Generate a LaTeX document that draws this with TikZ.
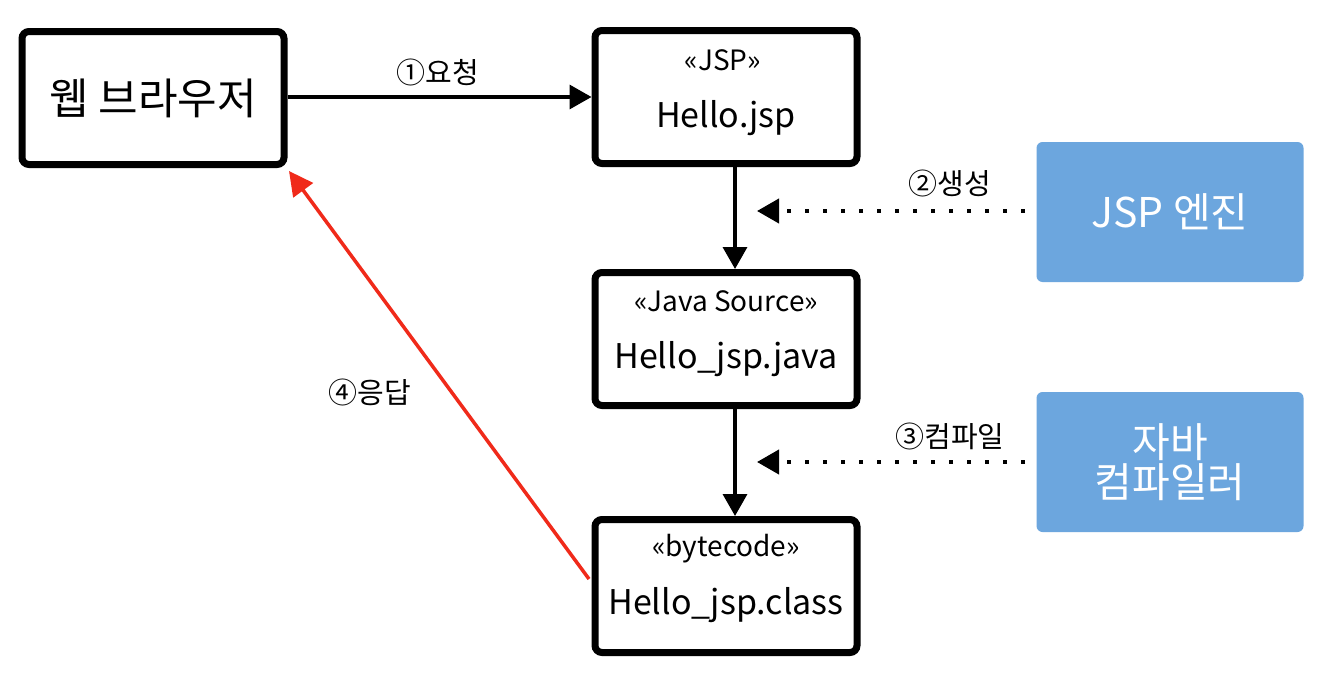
\documentclass[tikz,border=0pt]{standalone}
\usepackage{fontspec}
\setmainfont{Noto Sans CJK KR}
\usetikzlibrary{arrows.meta}
\definecolor{boxblue}{HTML}{6CA6DE}
\definecolor{respred}{HTML}{F02A1A}
\begin{document}
\begin{tikzpicture}[x=1pt,y=-1pt,
  blackbox/.style={draw=black,line width=7pt,rounded corners=7pt,fill=white,minimum width=262pt,minimum height=133pt,align=center,inner sep=0pt},
  bluebox/.style={fill=boxblue,rounded corners=6pt,minimum width=267pt,minimum height=140pt,align=center,text=white,inner sep=0pt,font=\fontsize{41}{46}\selectfont},
  flow/.style={line width=3.5pt,-{Triangle[length=22pt,width=24pt]}},
  dotarrow/.style={line width=4pt,dash pattern=on 4pt off 14pt,-{Triangle[length=22pt,width=24pt]}},
  lbl/.style={font=\fontsize{29}{32}\selectfont,inner sep=0pt},
  small/.style={font=\fontsize{28}{32}\selectfont},
  big/.style={font=\fontsize{34}{40}\selectfont}]
\useasboundingbox (0,0) rectangle (1340,696);
\fill[white] (0,0) rectangle (1340,696);
\node[blackbox,font=\fontsize{43}{48}\selectfont] (browser) at (153,98) {웹 브라우저};
\node[blackbox] (jsp) at (726,97) {};
\node[small] at (723,60) {«JSP»};
\node[big] at (726,118) {Hello.jsp};
\node[blackbox] (java) at (726,339) {};
\node[small] at (726,301) {«Java Source»};
\node[big] at (726,359) {Hello\_jsp.java};
\node[blackbox] (cls) at (726,586) {};
\node[small] at (726,549) {«bytecode»};
\node[big] at (726,605) {Hello\_jsp.class};
\node[bluebox] (engine) at (1170,212) {JSP 엔진};
\node[bluebox] (compiler) at (1170,462) {자바\\[-6pt]컴파일러};
\coordinate (g1) at (757,211);
\coordinate (g2) at (757,462);
\coordinate (e1) at (1025,211);
\coordinate (e2) at (1025,462);
\draw[flow] (browser.east |- 0,97) -- (jsp.west |- 0,97);
\node[lbl] at (438,72) {①요청};
\draw[flow] (jsp.south -| 735,0) -- (java.north -| 735,0);
\draw[flow] (java.south -| 735,0) -- (cls.north -| 735,0);
\draw[dotarrow] (e1) -- (g1);
\draw[dotarrow] (e2) -- (g2);
\node[lbl] at (950,183) {②생성};
\node[lbl] at (950,436) {③컴파일};
\coordinate (r0) at (589,579);
\coordinate (r1) at (289,171);
\draw[respred,line width=3.5pt,-{Triangle[length=24pt,width=24pt]}] (r0) -- (r1);
\node[lbl] at (370,392) {④응답};
\end{tikzpicture}
\end{document}
